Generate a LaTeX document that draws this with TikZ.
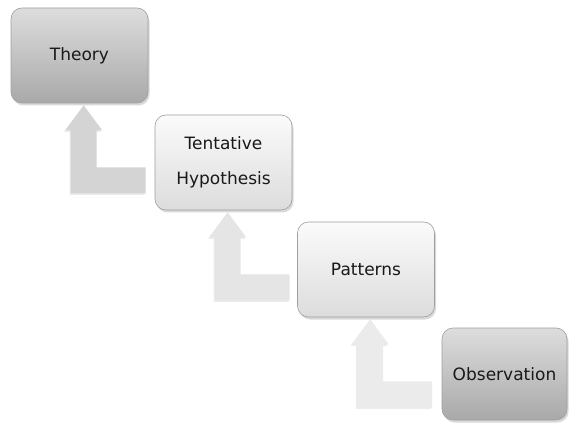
\documentclass[tikz,border=0pt]{standalone}
\usepackage{fontspec}
\setmainfont{DejaVu Sans}
\usepackage{tikz}
\usetikzlibrary{shadows}
\definecolor{lightTop}{HTML}{FBFBFB}
\definecolor{lightBot}{HTML}{DCDCDC}
\definecolor{darkTop}{HTML}{DDDDDD}
\definecolor{darkBot}{HTML}{A9A9A9}
\tikzstyle{stage} = [rectangle, rounded corners=11pt, draw=gray!75, line width=0.6pt,
minimum width=137pt, minimum height=95pt, align=center, text=black!90,
font=\fontsize{17}{35}\selectfont, top color=lightTop, bottom color=lightBot,
drop shadow={opacity=0.3, shadow xshift=1.5pt, shadow yshift=-2.5pt}]
\tikzstyle{dark} = [stage, top color=darkTop, bottom color=darkBot]
\tikzstyle{lshape} = [drop shadow={opacity=0.15, shadow xshift=-1pt, shadow yshift=-1.5pt}]
\newcommand{\bendup}[2]{ %
  % L-shaped arrow running up into the bottom of node #1, filled with #2.
  \begin{scope}[shift={(#1.south west)}]
    \fill[#2, lshape] (73,2) -- (91.5,27) -- (86,27) -- (86,64) -- (135,64)
      -- (135,90) -- (60,90) -- (60,27) -- (54.5,27) -- cycle;
  \end{scope}
}

\begin{document}
\begin{tikzpicture}[x=1pt, y=-1pt]
  \useasboundingbox (0,0) rectangle (569,427);
  \node[dark](theory) at (79.5,55.5) {Theory};
  \node[stage](hyp) at (223.5,162.5) {Tentative\\Hypothesis};
  \node[stage](patt) at (366,269.5) {Patterns};
  \node[dark, minimum width=125pt, minimum height=92pt](obs) at (504.5,374) {Observation};
  \bendup{theory}{black!17};
  \bendup{hyp}{black!10};
  \bendup{patt}{black!8};
\end{tikzpicture}
\end{document}
